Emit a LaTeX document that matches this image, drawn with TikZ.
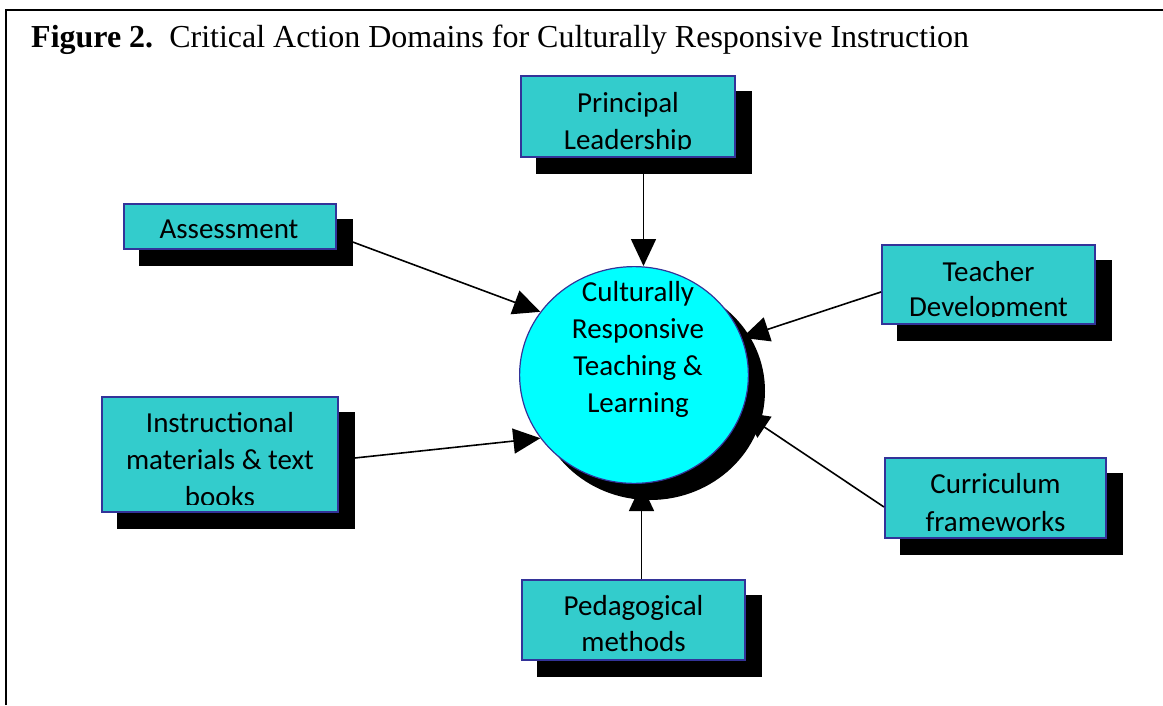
\documentclass[tikz,border=0pt]{standalone}
\usepackage{fontspec}
\setmainfont{Liberation Serif}
\newfontfamily\boxfont{Carlito}
\usetikzlibrary{arrows.meta,shapes.geometric}

\definecolor{boxfill}{HTML}{33CCCC}
\definecolor{boxedge}{HTML}{333399}
\definecolor{hubfill}{HTML}{00FFFF}

\tikzset{
  domainbox/.style={draw=boxedge, line width=2.4pt, fill=boxfill, inner sep=0pt},
  dropshadow/.style={fill=black, inner sep=0pt},
  % anchored on the baseline of the last line
  labeltext/.style={font=\boxfont\fontsize{29}{37}\selectfont, align=center,
                    anchor=base, inner sep=0pt},
  link/.style={line width=1.6pt, -{Triangle[length=27pt,width=25pt]}},
  frameline/.style={line width=2.5pt}
}

\begin{document}
\begin{tikzpicture}[x=1pt,y=1pt]
\useasboundingbox (0,0) rectangle (1163,-705);

% page frame and caption
\draw[frameline] (6,-705) -- (6,-10) -- (1163,-10);
\node[anchor=base west, inner sep=0pt, font=\fontsize{32}{38}\selectfont] (title) at (31,-47)
  {\textbf{Figure 2.}\ \ Critical Action Domains for Culturally Responsive Instruction};

% drop shadows
\node[dropshadow, minimum width=216pt, minimum height=83pt]  (pl-sh) at (643.5,-132) {};
\node[dropshadow, minimum width=214pt, minimum height=47pt]  (as-sh) at (245.5,-242) {};
\node[dropshadow, minimum width=215pt, minimum height=81pt]  (td-sh) at (1004,-300) {};
\node[dropshadow, minimum width=238pt, minimum height=117pt] (im-sh) at (235.5,-470) {};
\node[dropshadow, minimum width=223pt, minimum height=82pt]  (cf-sh) at (1011,-513.5) {};
\node[dropshadow, minimum width=225pt, minimum height=82pt]  (pm-sh) at (649,-635.5) {};
\node[dropshadow, ellipse, minimum width=230pt, minimum height=218pt] (hub-sh) at (650,-391) {};

% central hub
\node[ellipse, draw=boxedge, line width=1.2pt, fill=hubfill, inner sep=0pt,
      minimum width=228.8pt, minimum height=216.8pt] (hub) at (634,-375) {};
\node[labeltext] (hub-t) at (638,-412) {Culturally\\Responsive\\Teaching \&\\Learning};

% domain boxes
\node[domainbox, minimum width=213.6pt, minimum height=80.6pt]  (pl) at (628,-116.5) {};
\node[domainbox, minimum width=211.6pt, minimum height=44.6pt]  (as) at (230,-226.5) {};
\node[domainbox, minimum width=212.6pt, minimum height=78.6pt]  (td) at (988.5,-284.5) {};
\node[domainbox, minimum width=235.6pt, minimum height=114.6pt] (im) at (220,-454.5) {};
\node[domainbox, minimum width=220.6pt, minimum height=79.6pt]  (cf) at (995.5,-498) {};
\node[domainbox, minimum width=222.6pt, minimum height=79.6pt]  (pm) at (633.5,-620) {};

% box texts, cut off a little above the lower edge
\begin{scope}
  \clip ([yshift=9pt]pl.south west) rectangle (pl.north east);
  \node[labeltext] (pl-t) at (628,-149) {Principal\\Leadership};
\end{scope}
\begin{scope}
  \clip ([yshift=4pt]as.south west) rectangle (as.north east);
  \node[labeltext] (as-t) at (229,-238) {Assessment};
\end{scope}
\begin{scope}
  \clip ([yshift=9pt]td.south west) rectangle (td.north east);
  \node[labeltext] (td-t) at (988.5,-316) {Teacher\\[-2pt]Development};
\end{scope}
\begin{scope}
  \clip ([yshift=9pt]im.south west) rectangle (im.north east);
  \node[labeltext] (im-t) at (220,-506) {Instructional\\materials \& text\\books};
\end{scope}
\begin{scope}
  \clip ([yshift=4pt]cf.south west) rectangle (cf.north east);
  \node[labeltext] (cf-t) at (995.5,-531.5) {Curriculum\\[1pt]frameworks};
\end{scope}
\begin{scope}
  \clip ([yshift=4pt]pm.south west) rectangle (pm.north east);
  \node[labeltext] (pm-t) at (633.5,-651) {Pedagogical\\[-1pt]methods};
\end{scope}

% connectors into the hub
\draw[link] (pl-sh.south) -- (pl-sh.south |- hub.north);
\draw[link] (as-sh.east) -- (hub.146);
\draw[link] ([yshift=-7.5pt]td.west) -- (hub.19);
\draw[link] ([yshift=12pt]im-sh.east) -- (hub.214);
\draw[link] ([yshift=-9pt]cf.west) -- (hub.-19);
\draw[link] ([xshift=8pt]pm.north) -- ([xshift=8pt]pm.north |- hub.south);
\end{tikzpicture}
\end{document}
